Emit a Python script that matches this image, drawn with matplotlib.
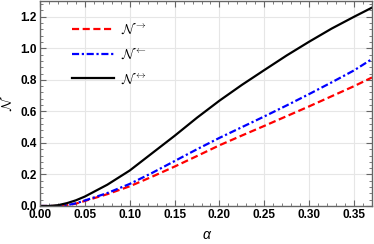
import numpy as np
import matplotlib
matplotlib.use("Agg")
import matplotlib.pyplot as plt
from matplotlib.ticker import MultipleLocator, FormatStrFormatter

plt.rcParams['font.family'] = ['Liberation Sans', 'DejaVu Sans']
plt.rcParams['mathtext.fontset'] = 'cm'

# values
alpha = [0.0, 0.01, 0.02, 0.03, 0.04, 0.05, 0.075, 0.10, 0.125, 0.15, 0.175,
         0.20, 0.225, 0.25, 0.275, 0.30, 0.325, 0.35, 0.37]
n_fwd = [0.0, 0.0, 0.0, 0.004, 0.015, 0.032, 0.075, 0.125, 0.186, 0.25, 0.317,
         0.385, 0.447, 0.508, 0.57, 0.632, 0.696, 0.76, 0.815]
n_bwd = [0.0, 0.0, 0.0, 0.005, 0.017, 0.035, 0.082, 0.14, 0.21, 0.285, 0.36,
         0.432, 0.5, 0.568, 0.638, 0.71, 0.784, 0.86, 0.932]
n_both = [0.0, 0.0, 0.005, 0.018, 0.036, 0.06, 0.135, 0.225, 0.335, 0.445, 0.56,
          0.668, 0.768, 0.862, 0.955, 1.042, 1.125, 1.20, 1.258]
labels = [r'$\mathcal{N}^{\rightarrow}$', r'$\mathcal{N}^{\leftarrow}$',
          r'$\mathcal{N}^{\leftrightarrow}$']

fig = plt.figure(figsize=(3.74, 2.44), dpi=100)
ax = fig.add_axes([40/374, 1-206/244, 332/374, 205/244])

ax.plot(alpha, n_fwd, color='#ff0000', ls=(0, (3.2, 1.6)), lw=1.6, label=labels[0])
ax.plot(alpha, n_bwd, color='#0000ff', ls=(0, (3.2, 1.2, 1.0, 1.2)), lw=1.6, label=labels[1])
ax.plot(alpha, n_both, color='black', ls='-', lw=1.6, label=labels[2])

ax.set_xlim(0, 0.37)
ax.set_ylim(0, 1.3)
ax.xaxis.set_major_locator(MultipleLocator(0.05))
ax.xaxis.set_minor_locator(MultipleLocator(0.01))
ax.yaxis.set_major_locator(MultipleLocator(0.2))
ax.yaxis.set_minor_locator(MultipleLocator(0.04))
ax.xaxis.set_major_formatter(FormatStrFormatter('%.2f'))
ax.yaxis.set_major_formatter(FormatStrFormatter('%.1f'))

ax.grid(True, which='major', color='#e6e6e6', lw=0.8)
ax.set_axisbelow(True)
for s in ax.spines.values():
    s.set_color('#666666')
    s.set_linewidth(1.0)
ax.tick_params(which='both', direction='in', top=True, right=True, color='#666666')
ax.tick_params(which='major', length=4, width=0.8, labelsize=8.5, pad=2.5)
ax.tick_params(which='minor', length=2, width=0.6)
for t in ax.get_xticklabels() + ax.get_yticklabels():
    t.set_fontweight('bold')

ax.set_xlabel('α', fontsize=10, style='italic', labelpad=5)
ax.set_ylabel(r'$\mathcal{N}$', fontsize=10, labelpad=4)

ax.legend(loc='upper left', bbox_to_anchor=(0.06, 0.96), frameon=False,
          fontsize=10, handlelength=3.0, labelspacing=0.65, handletextpad=0.5)

fig.savefig('out.png', dpi=100)
